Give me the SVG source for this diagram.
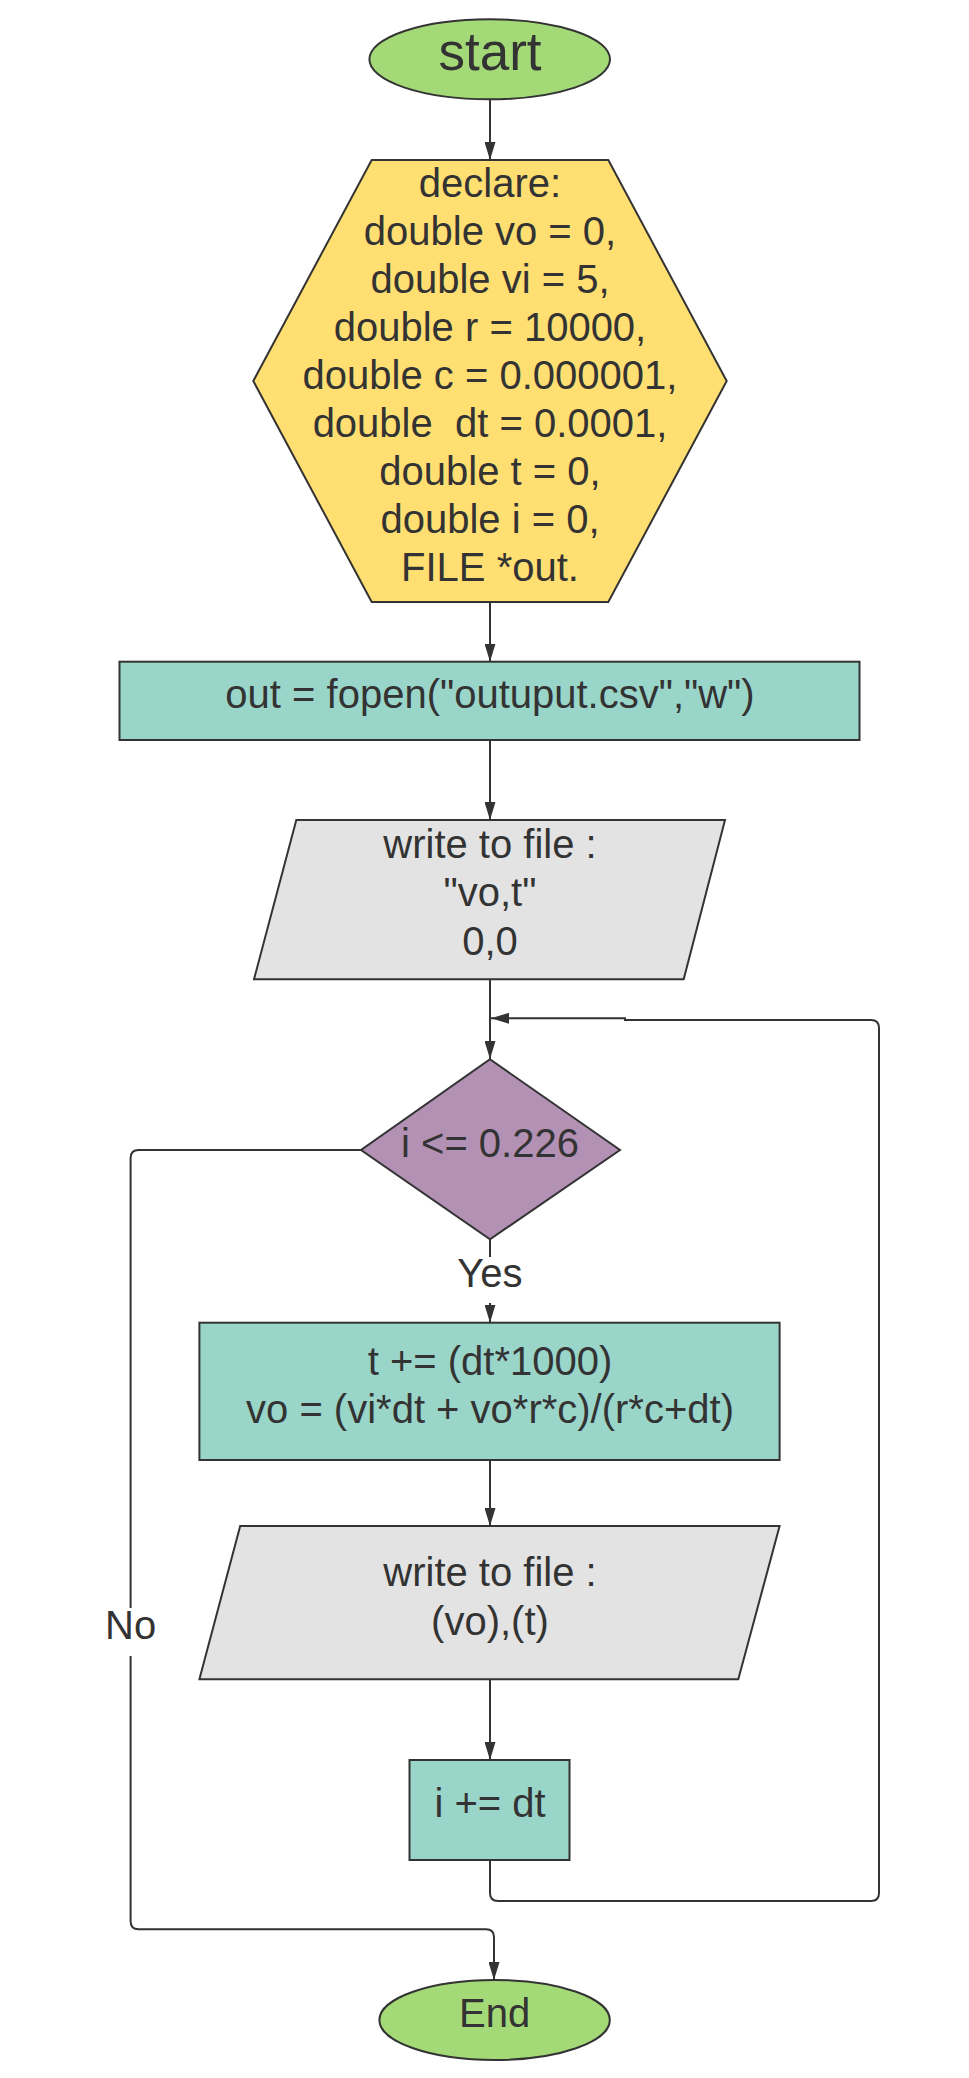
<svg xmlns="http://www.w3.org/2000/svg" width="969" height="2078" viewBox="0 0 969 2078">
<style>
.n{stroke:#333333;stroke-width:2;stroke-linejoin:miter}
.t{font-family:"Liberation Sans",Arial,sans-serif;font-size:40px;fill:#333333;text-anchor:middle;white-space:pre}
.c{fill:none;stroke:#333333;stroke-width:2}
.green{fill:#a3d977}.yellow{fill:#ffdf71}.teal{fill:#9ad5ca}.gray{fill:#e3e3e3}.purple{fill:#b391b5}
</style>
<defs>
<marker id="arr" markerUnits="userSpaceOnUse" markerWidth="18" markerHeight="11" refX="18" refY="5.5" orient="auto">
<path d="M0,0 L18,5.5 L0,11 z" fill="#333333"/>
</marker>
</defs>
<rect width="969" height="2078" fill="#ffffff"/>
<g id="connectors">
<path class="c" d="M490 99.5 V160" marker-end="url(#arr)"/>
<path class="c" d="M490 602 V661.7" marker-end="url(#arr)"/>
<path class="c" d="M490 740 V820" marker-end="url(#arr)"/>
<path class="c" d="M490 980 V1059" marker-end="url(#arr)"/>
<path class="c" d="M490 1239.3 V1257 M490 1303 V1322.7" marker-end="url(#arr)"/>
<path class="c" d="M490 1460 V1526" marker-end="url(#arr)"/>
<path class="c" d="M490 1679.3 V1760" marker-end="url(#arr)"/>
<path class="c" d="M490 1860 V1893 Q490 1901 498 1901 H871 Q879 1901 879 1893 V1028 Q879 1020 871 1020 H625 V1018.3 H491" marker-end="url(#arr)"/>
<path class="c" d="M361 1150 H138.6 Q130.6 1150 130.6 1158 V1608 M130.6 1656 V1921.3 Q130.6 1929.3 138.6 1929.3 H486 Q494 1929.3 494 1937.3 V1980" marker-end="url(#arr)"/>
<text class="t" x="490" y="1286.7">Yes</text>
<text class="t" x="130.6" y="1639">No</text>
</g>
<g id="start">
<ellipse class="n green" cx="489.7" cy="59.3" rx="120.3" ry="40"/>
<text class="t" x="490" y="70" style="font-size:53px">start</text>
</g>
<g id="declare">
<polygon class="n yellow" points="371.7,160 608.3,160 726.7,381 608.3,602 371.7,602 253.3,381"/>
<text class="t" x="490" y="196.7">declare:</text>
<text class="t" x="490" y="244.7">double vo = 0,</text>
<text class="t" x="490" y="292.7">double vi = 5,</text>
<text class="t" x="490" y="340.7">double r = 10000,</text>
<text class="t" x="490" y="388.7">double c = 0.000001,</text>
<text class="t" x="490" y="436.7">double  dt = 0.0001,</text>
<text class="t" x="490" y="484.7">double t = 0,</text>
<text class="t" x="490" y="532.7">double i = 0,</text>
<text class="t" x="490" y="580.7">FILE *out.</text>
</g>
<g id="fopen">
<rect class="n teal" x="119.5" y="661.7" width="740" height="78.3"/>
<text class="t" x="490" y="708.3">out = fopen("outuput.csv","w")</text>
</g>
<g id="write1">
<polygon class="n gray" points="296.3,820 725,820 683.7,979.3 254,979.3"/>
<text class="t" x="490" y="858.3">write to file :</text>
<text class="t" x="490" y="906.3">"vo,t"</text>
<text class="t" x="490" y="955">0,0</text>
</g>
<g id="condition">
<polygon class="n purple" points="490,1059.3 620,1150 490,1239.3 361,1150"/>
<text class="t" x="490" y="1156.7">i &lt;= 0.226</text>
</g>
<g id="update">
<rect class="n teal" x="199.4" y="1322.7" width="580.2" height="137.3"/>
<text class="t" x="490" y="1375">t += (dt*1000)</text>
<text class="t" x="490" y="1423.3">vo = (vi*dt + vo*r*c)/(r*c+dt)</text>
</g>
<g id="write2">
<polygon class="n gray" points="240.2,1526 779.6,1526 738.3,1679.3 199.4,1679.3"/>
<text class="t" x="490" y="1586">write to file :</text>
<text class="t" x="490" y="1635">(vo),(t)</text>
</g>
<g id="increment">
<rect class="n teal" x="409.5" y="1760" width="160" height="100"/>
<text class="t" x="490" y="1816.7">i += dt</text>
</g>
<g id="end">
<ellipse class="n green" cx="494.6" cy="2020" rx="115.2" ry="40"/>
<text class="t" x="494.6" y="2027.3">End</text>
</g>
</svg>
